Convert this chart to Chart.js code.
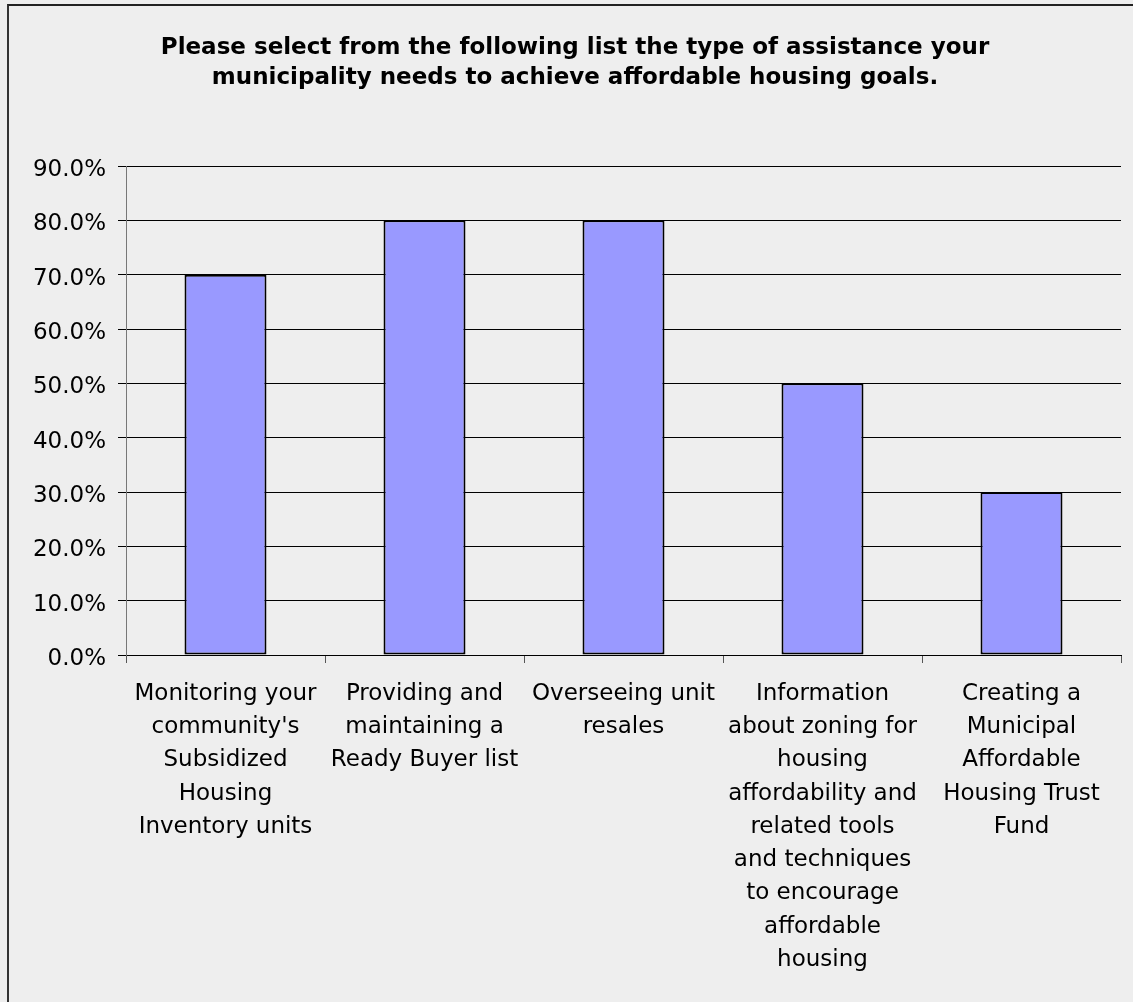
<!DOCTYPE html>
<html>
<head>
<meta charset="utf-8">
<script src="https://cdn.jsdelivr.net/npm/chart.js@4"></script>
<style>
  html, body { margin: 0; padding: 0; background: #eeeeee; }
  #wrap { position: relative; width: 1133px; height: 1002px; overflow: hidden; }
  #frame { position: absolute; left: 7px; top: 4px; width: 1140px; height: 1010px;
           border-left: 2px solid #333; border-top: 2px solid #222; box-sizing: border-box; }
  canvas { position: absolute; left: 0; top: 0; }
</style>
</head>
<body>
<div id="wrap">
  <div id="frame"></div>
  <canvas id="c" width="1133" height="1002"></canvas>
</div>
<script>
const titleLines = [
  "Please select from the following list the type of assistance your",
  "municipality needs to achieve affordable housing goals."
];
const categories = [
  ["Monitoring your", "community's", "Subsidized", "Housing", "Inventory units"],
  ["Providing and", "maintaining a", "Ready Buyer list"],
  ["Overseeing unit", "resales"],
  ["Information", "about zoning for", "housing", "affordability and", "related tools", "and techniques", "to encourage", "affordable", "housing"],
  ["Creating a", "Municipal", "Affordable", "Housing Trust", "Fund"]
];
const values = [70, 80, 80, 50, 30];
const yMin = 0, yMax = 90, yStep = 10;

const FONT = "'DejaVu Sans', sans-serif";

new Chart(document.getElementById('c'), {
  type: 'bar',
  data: {
    labels: categories,
    datasets: [{
      data: values,
      backgroundColor: '#9999ff',
      borderColor: '#000000',
      borderWidth: 2,
      borderSkipped: false,
      categoryPercentage: 1,
      barPercentage: 0.412
    }]
  },
  options: {
    responsive: false,
    animation: false,
    layout: { padding: { left: 17, right: 0, top: 0, bottom: 0 } },
    plugins: {
      legend: { display: false },
      tooltip: { enabled: false },
      title: {
        display: true,
        text: titleLines,
        color: '#000',
        font: { family: FONT, size: 23, weight: 'bold', lineHeight: 30/23 },
        padding: { top: 33, bottom: 73 }
      }
    },
    scales: {
      x: {
        grid: { display: true, drawOnChartArea: false, drawTicks: true, tickLength: 8, color: '#555', offset: true },
        border: { display: true, color: '#000', width: 1 },
        ticks: { color: '#000', font: { family: FONT, size: 23, lineHeight: 33.3/23 }, padding: 14, maxRotation: 0, autoSkip: false },
        afterFit(s) { s.height = 1002 - 655; }
      },
      y: {
        min: yMin, max: yMax,
        grid: { color: '#000', lineWidth: 1, tickLength: 8, drawTicks: true },
        border: { display: true, color: '#777', width: 1 },
        ticks: {
          stepSize: yStep, color: '#000', padding: 12, labelOffset: 4,
          font: { family: FONT, size: 23 },
          callback: v => v.toFixed(1) + '%'
        },
        afterFit(s) { s.width = 109; }
      },
      yR: {
        position: 'right', display: true,
        grid: { display: false }, border: { display: false }, ticks: { display: false },
        afterFit(s) { s.width = 12; }
      }
    }
  }
});
</script>
</body>
</html>
